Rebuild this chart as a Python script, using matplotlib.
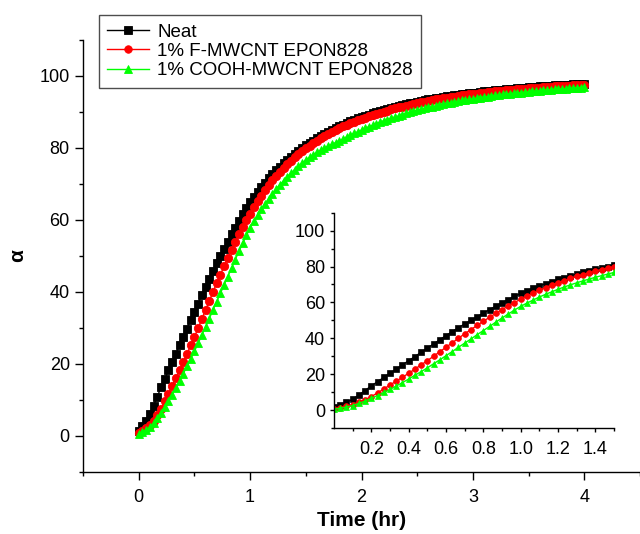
import matplotlib
matplotlib.use("Agg")
import matplotlib.pyplot as plt
import numpy as np
from matplotlib.ticker import MultipleLocator, FixedLocator, FormatStrFormatter

plt.rcParams['font.family'] = ['Liberation Sans', 'DejaVu Sans']

# readings every 2 min, 0 .. 240 min
time_min = np.arange(0, 241, 2)
time_hr = time_min / 60.0

neat = [1.5, 2.8, 4.3, 6.0, 8.4, 10.9, 13.5, 15.8, 18.2, 20.5, 22.8, 25.2, 27.5, 29.8, 32.2,
        34.5, 36.8, 39.2, 41.5, 43.7, 45.9, 48.0, 50.0, 52.0, 54.0, 56.0, 57.9, 59.8, 61.6, 63.3,
        65.0, 66.5, 67.9, 69.2, 70.4, 71.6, 72.8, 73.8, 74.8, 75.8, 76.7, 77.5, 78.4, 79.2, 80.0,
        80.7, 81.4, 82.0, 82.7, 83.3, 83.9, 84.5, 85.0, 85.5, 86.0, 86.5, 86.9, 87.4, 87.8, 88.2,
        88.6, 88.9, 89.3, 89.6, 89.9, 90.3, 90.6, 90.9, 91.1, 91.4, 91.7, 91.9, 92.2, 92.4, 92.6,
        92.9, 93.1, 93.3, 93.5, 93.7, 93.9, 94.0, 94.2, 94.4, 94.5, 94.6, 94.8, 94.9, 95.0, 95.2,
        95.3, 95.4, 95.6, 95.7, 95.8, 95.9, 96.0, 96.1, 96.2, 96.3, 96.4, 96.5, 96.6, 96.7, 96.8,
        96.9, 97.0, 97.0, 97.1, 97.2, 97.2, 97.3, 97.4, 97.4, 97.5, 97.6, 97.6, 97.7, 97.8, 97.8,
        97.9]

f_mwcnt = [0.8, 1.4, 2.1, 3.0, 4.3, 5.8, 7.5, 9.6, 11.7, 14.0, 16.1, 18.3, 20.5, 22.8, 25.2,
           27.5, 30.0, 32.5, 35.0, 37.5, 40.0, 42.5, 44.8, 47.2, 49.5, 51.7, 53.9, 56.0, 58.0, 59.9,
           61.8, 63.5, 65.2, 66.8, 68.3, 69.7, 71.0, 72.2, 73.4, 74.5, 75.5, 76.5, 77.4, 78.3, 79.1,
           79.9, 80.6, 81.3, 82.0, 82.7, 83.3, 83.9, 84.4, 85.0, 85.5, 86.0, 86.4, 86.9, 87.3, 87.7,
           88.1, 88.4, 88.8, 89.1, 89.4, 89.8, 90.1, 90.4, 90.7, 91.0, 91.3, 91.5, 91.8, 92.0, 92.2,
           92.5, 92.7, 92.9, 93.1, 93.3, 93.5, 93.7, 93.8, 94.0, 94.2, 94.3, 94.5, 94.6, 94.7, 94.9,
           95.0, 95.1, 95.3, 95.4, 95.5, 95.6, 95.7, 95.8, 95.9, 96.0, 96.1, 96.2, 96.3, 96.4, 96.5,
           96.6, 96.7, 96.7, 96.8, 96.9, 96.9, 97.0, 97.1, 97.1, 97.2, 97.3, 97.3, 97.4, 97.5, 97.5,
           97.6]

cooh_mwcnt = [0.5, 1.0, 1.7, 2.5, 3.7, 5.0, 6.5, 8.1, 9.8, 11.5, 13.4, 15.3, 17.3, 19.4, 21.4,
              23.5, 25.8, 28.0, 30.3, 32.6, 35.0, 37.3, 39.6, 42.0, 44.3, 46.6, 49.0, 51.3, 53.5, 55.7,
              57.8, 59.6, 61.3, 63.0, 64.5, 65.9, 67.3, 68.6, 69.8, 70.9, 72.0, 73.0, 74.0, 74.9, 75.8,
              76.7, 77.4, 78.1, 78.8, 79.4, 80.0, 80.5, 81.0, 81.5, 82.0, 82.5, 83.1, 83.6, 84.1, 84.5,
              85.0, 85.5, 85.9, 86.3, 86.8, 87.2, 87.6, 87.9, 88.3, 88.6, 88.9, 89.3, 89.6, 89.9, 90.2,
              90.5, 90.8, 91.0, 91.3, 91.5, 91.7, 92.0, 92.2, 92.4, 92.6, 92.8, 93.0, 93.2, 93.3, 93.5,
              93.7, 93.8, 94.0, 94.2, 94.3, 94.5, 94.6, 94.7, 94.9, 95.0, 95.1, 95.2, 95.3, 95.4, 95.5,
              95.6, 95.7, 95.8, 95.9, 96.0, 96.1, 96.2, 96.3, 96.3, 96.4, 96.5, 96.6, 96.7, 96.8, 96.8,
              96.9]

labels = ['Neat', '1% F-MWCNT EPON828', '1% COOH-MWCNT EPON828']
colors = ['black', '#ff0000', '#00ff00']
markers = ['s', 'o', '^']
series = [neat, f_mwcnt, cooh_mwcnt]

fig = plt.figure(figsize=(6.4, 5.34), dpi=100)
ax = fig.add_axes([83/640, 1 - 472/534, 1 - 83/640, 432/534])
ins = fig.add_axes([334/640, 1 - 428/534, 280/640, 215.3/534])

handles = []
sel = time_hr <= 1.501
for y, c, m, lab in zip(series, colors, markers, labels):
    h, = ax.plot(time_hr, y, '-', color=c, marker=m, ms=6, mec=c, mew=0.6,
                 lw=1, label=lab)
    handles.append(h)
    ins.plot(time_hr[sel], np.asarray(y)[sel], '-', color=c, marker=m, ms=4.2,
             mec=c, mew=0.5, lw=1)

for a in (ax, ins):
    a.spines['top'].set_visible(False)
    a.spines['right'].set_visible(False)
    a.spines['left'].set_linewidth(1.0)
    a.spines['bottom'].set_linewidth(1.0)
    a.set_ylim(-10, 110)
    a.yaxis.set_major_locator(MultipleLocator(20))
    a.yaxis.set_minor_locator(MultipleLocator(10))

ax.set_xlim(-0.5, 4.5)
ax.xaxis.set_major_locator(MultipleLocator(1))
ax.xaxis.set_minor_locator(MultipleLocator(0.5))
ax.tick_params(which='major', direction='out', length=6, width=1, labelsize=13)
ax.tick_params(which='minor', direction='out', length=3, width=1)
ax.tick_params(axis='x', which='major', pad=6)
ax.set_xlabel('Time (hr)', fontsize=15, fontweight='bold', labelpad=4)
ax.set_ylabel('α', fontsize=15, fontweight='bold', labelpad=9)

ins.set_xlim(0, 1.5)
ins.xaxis.set_major_locator(FixedLocator([0.2, 0.4, 0.6, 0.8, 1.0, 1.2, 1.4]))
ins.xaxis.set_major_formatter(FormatStrFormatter('%.1f'))
ins.xaxis.set_minor_locator(FixedLocator([0.1, 0.3, 0.5, 0.7, 0.9, 1.1, 1.3, 1.5]))
ins.tick_params(which='major', direction='out', length=3, width=1, labelsize=13)
ins.tick_params(which='minor', direction='out', length=2, width=1)
ins.tick_params(axis='x', which='major', pad=6)
ins.set_facecolor('none')

leg = ax.legend(handles=handles, loc='upper left',
                bbox_to_anchor=(99/640, 1 - 15/534), bbox_transform=fig.transFigure,
                borderaxespad=0, fontsize=13.5, handlelength=2.2, handletextpad=0.45,
                labelspacing=0.12, borderpad=0.45, markerscale=0.9,
                fancybox=False, framealpha=1, edgecolor='0.3')
leg.get_frame().set_linewidth(1.0)

fig.savefig('out.png', dpi=100)
